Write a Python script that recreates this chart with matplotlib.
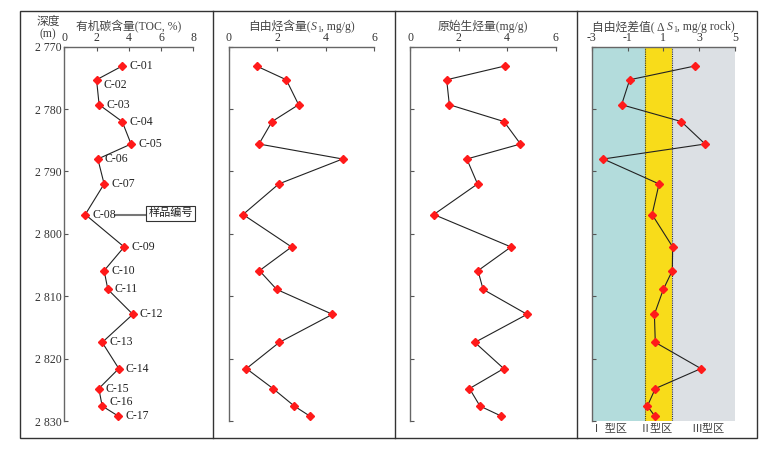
import matplotlib
matplotlib.use("Agg")
import matplotlib.pyplot as plt
from matplotlib.lines import Line2D
from matplotlib.patches import Rectangle

plt.rcParams["font.family"] = ["Liberation Serif", "Noto Sans CJK SC", "DejaVu Sans"]
plt.rcParams["axes.unicode_minus"] = False

# sample data
samples = ["C-01", "C-02", "C-03", "C-04", "C-05", "C-06", "C-07", "C-08", "C-09",
           "C-10", "C-11", "C-12", "C-13", "C-14", "C-15", "C-16", "C-17"]
depth = [2773.1, 2775.3, 2779.3, 2782.0, 2785.6, 2788.0, 2792.0, 2796.9, 2802.1,
         2805.9, 2808.9, 2812.9, 2817.4, 2821.6, 2824.8, 2827.6, 2829.2]
toc = [3.59, 2.00, 2.16, 3.59, 4.14, 2.08, 2.47, 1.30, 3.71,
       2.47, 2.70, 4.25, 2.35, 3.38, 2.14, 2.35, 3.34]
s1 = [1.14, 2.37, 2.88, 1.78, 1.24, 4.70, 2.06, 0.58, 2.59,
      1.26, 1.97, 4.28, 2.08, 0.72, 1.82, 2.70, 3.34]
original_hc = [3.90, 1.51, 1.62, 3.87, 4.55, 2.34, 2.78, 0.98, 4.16,
               2.80, 3.01, 4.82, 2.67, 3.86, 2.45, 2.88, 3.75]
delta_s1 = [2.75, -0.88, -1.33, 2.00, 3.33, -2.35, 0.76, 0.37, 1.52,
            1.50, 1.00, 0.50, 0.55, 3.10, 0.55, 0.11, 0.52]

depth_ticks = [2770, 2780, 2790, 2800, 2810, 2820, 2830]
zone_bounds = [-3, 0, 1.5, 5]
zone_colors = ["#b3dcdc", "#f8dc1a", "#dce0e4"]
zone_labels = ["Ⅰ 型区", "Ⅱ型区", "Ⅲ型区"]
zone_label_x = [-2.05, 0.63, 3.48]

W, H = 774, 451
fig = plt.figure(figsize=(W / 100, H / 100), dpi=100)
renderer = fig.canvas.get_renderer()


def px_axes(x0, x1):
    top, bottom = 46.7, 421.0
    return fig.add_axes([x0 / W, (H - bottom) / H, (x1 - x0) / W, (bottom - top) / H])


def rich_title(xc, y, parts, size=8.5):
    # parts: (text, style) with style '' / 'it' / 'sub'
    texts = []
    for s, style in parts:
        kw = dict(fontsize=size, color="#444444", va="baseline", ha="left")
        dy = 0
        if style == "it":
            kw["fontstyle"] = "italic"
        elif style == "sub":
            kw["fontsize"] = size * 0.65
            dy = -2.5
        t = fig.text(0, 0, s, **kw)
        texts.append((t, dy))
    widths = [t.get_window_extent(renderer).width for t, _ in texts]
    x = xc - sum(widths) / 2
    for (t, dy), w in zip(texts, widths):
        t.set_position((x / W, (H - y - 4 + dy) / H))
        x += w


panels = [
    dict(x=(64.3, 193.3), data=toc, lim=(0, 8), ticks=[0, 2, 4, 6, 8],
         title=[("有机碳含量(TOC, %)", "")]),
    dict(x=(229, 374), data=s1, lim=(0, 6), ticks=[0, 2, 4, 6],
         title=[("自由烃含量(", ""), ("S", "it"), ("1", "sub"), (", mg/g)", "")]),
    dict(x=(410, 555.7), data=original_hc, lim=(0, 6), ticks=[0, 2, 4, 6],
         title=[("原始生烃量(mg/g)", "")]),
    dict(x=(591.7, 735), data=delta_s1, lim=(-3, 5), ticks=[-3, -1, 1, 3, 5],
         title=[("自由烃差值( Δ ", ""), ("S", "it"), ("1", "sub"), (", mg/g rock)", "")]),
]

axes = []
for i, p in enumerate(panels):
    ax = px_axes(*p["x"])
    ax.set_xlim(*p["lim"])
    ax.set_ylim(2830, 2770)
    ax.xaxis.tick_top()
    ax.set_xticks(p["ticks"])
    ax.set_yticks(depth_ticks)
    ax.tick_params(direction="in", length=3, width=0.8, color="#555555",
                   labelsize=8.5, pad=2, labelcolor="#333333")
    for side in ["right", "bottom"]:
        ax.spines[side].set_visible(False)
    for side in ["left", "top"]:
        ax.spines[side].set_color("#666666")
        ax.spines[side].set_linewidth(1.0)
    ax.patch.set_alpha(0)
    if i == 0:
        ax.set_yticklabels([f"{d // 1000} {d % 1000:03d}" for d in depth_ticks])
    else:
        ax.set_yticklabels([])
    ax.plot(p["data"], depth, color="#222222", lw=0.8, marker="D", ms=4.2,
            mfc="#ff1a1a", mec="#ff1a1a", zorder=3, clip_on=False)
    rich_title((p["x"][0] + p["x"][1]) / 2, 26, p["title"])
    axes.append(ax)

# zones in the last panel
ax4 = axes[3]
for (a, b), c in zip(zip(zone_bounds[:-1], zone_bounds[1:]), zone_colors):
    ax4.axvspan(a, b, color=c, zorder=0, lw=0)
for b in zone_bounds[1:3]:
    ax4.axvline(b, color="#333333", ls=(0, (1, 1)), lw=0.8, zorder=1)
for xl, lab in zip(zone_label_x, zone_labels):
    ax4.text(xl, 2831.3, lab, ha="center", va="center", fontsize=8,
             color="#444444", clip_on=False)

# sample labels in the first panel
ax1 = axes[0]
offsets = {"C-02": (5, -4), "C-16": (5, 3)}
for name, x, y in zip(samples, toc, depth):
    dx, dy = offsets.get(name, (5, 0))
    ax1.annotate(name, (x, y), xytext=(dx, dy), textcoords="offset points",
                 ha="left", va="center", fontsize=8.5, color="#222222")

# callout for sample id
ax1.plot([3.15, 5.35], [2796.9, 2796.9], color="#777777", lw=1.5, clip_on=False)
ax1.text(6.6, 2796.7, "样品编号", ha="center", va="center", fontsize=8,
         color="#222222", bbox=dict(boxstyle="square,pad=0.2", fc="white",
                                     ec="#333333", lw=0.8))

fig.text(48 / W, 1 - 22 / H, "深度", ha="center", va="center", fontsize=8.5, color="#444444")
fig.text(48 / W, 1 - 34 / H, "(m)", ha="center", va="center", fontsize=8.5, color="#444444")

# outer frame and separators
fig.add_artist(Rectangle((20 / W, 1 - 438 / H), (757 - 20) / W, (438 - 11) / H,
                         transform=fig.transFigure, fill=False, ec="#333333", lw=1.0))
for xs in [213, 395.5, 576.5]:
    fig.add_artist(Line2D([xs / W, xs / W], [1 - 438 / H, 1 - 11 / H],
                          transform=fig.transFigure, color="#333333", lw=1.0))

fig.savefig("out.png", dpi=100)
